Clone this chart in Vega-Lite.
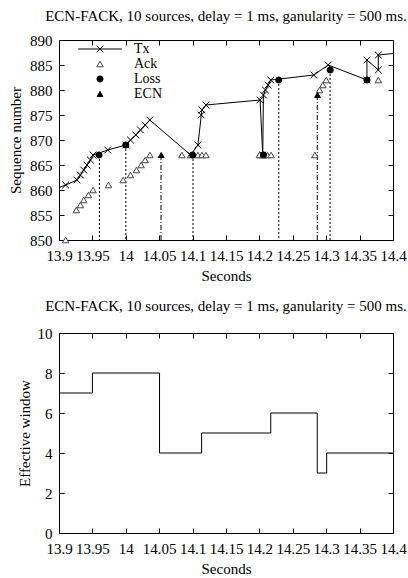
{
  "$schema": "https://vega.github.io/schema/vega-lite/v6.json",
  "padding": {"left": 8, "top": 8, "right": 0, "bottom": 0},
  "background": "white",
  "datasets": {
    "tx": [
      {"n": 0, "t": 13.88, "seq": 859.5, "series": "Tx"},
      {"n": 1, "t": 13.91, "seq": 861, "series": "Tx"},
      {"n": 2, "t": 13.927, "seq": 862, "series": "Tx"},
      {"n": 3, "t": 13.932, "seq": 863, "series": "Tx"},
      {"n": 4, "t": 13.937, "seq": 864, "series": "Tx"},
      {"n": 5, "t": 13.942, "seq": 865, "series": "Tx"},
      {"n": 6, "t": 13.947, "seq": 866, "series": "Tx"},
      {"n": 7, "t": 13.951, "seq": 867, "series": "Tx"},
      {"n": 8, "t": 13.973, "seq": 868, "series": "Tx"},
      {"n": 9, "t": 14.0, "seq": 869, "series": "Tx"},
      {"n": 10, "t": 14.007, "seq": 870, "series": "Tx"},
      {"n": 11, "t": 14.015, "seq": 871, "series": "Tx"},
      {"n": 12, "t": 14.022, "seq": 872, "series": "Tx"},
      {"n": 13, "t": 14.029, "seq": 873, "series": "Tx"},
      {"n": 14, "t": 14.036, "seq": 874, "series": "Tx"},
      {"n": 15, "t": 14.097, "seq": 867, "series": "Tx"},
      {"n": 16, "t": 14.108, "seq": 869, "series": "Tx"},
      {"n": 17, "t": 14.113, "seq": 875, "series": "Tx"},
      {"n": 18, "t": 14.114, "seq": 876, "series": "Tx"},
      {"n": 19, "t": 14.12, "seq": 877, "series": "Tx"},
      {"n": 20, "t": 14.201, "seq": 878, "series": "Tx"},
      {"n": 21, "t": 14.205, "seq": 867, "series": "Tx"},
      {"n": 22, "t": 14.206, "seq": 879, "series": "Tx"},
      {"n": 23, "t": 14.209, "seq": 880, "series": "Tx"},
      {"n": 24, "t": 14.213, "seq": 881, "series": "Tx"},
      {"n": 25, "t": 14.217, "seq": 882, "series": "Tx"},
      {"n": 26, "t": 14.2815, "seq": 883, "series": "Tx"},
      {"n": 27, "t": 14.303, "seq": 885, "series": "Tx"},
      {"n": 28, "t": 14.361, "seq": 882, "series": "Tx"},
      {"n": 29, "t": 14.361, "seq": 886, "series": "Tx"},
      {"n": 30, "t": 14.378, "seq": 884, "series": "Tx"},
      {"n": 31, "t": 14.378, "seq": 887, "series": "Tx"},
      {"n": 32, "t": 14.43, "seq": 887.7, "series": "Tx"}
    ],
    "events": [
      {"t": 13.91, "seq": 850, "series": "Ack"},
      {"t": 13.926, "seq": 856, "series": "Ack"},
      {"t": 13.932, "seq": 857, "series": "Ack"},
      {"t": 13.937, "seq": 858, "series": "Ack"},
      {"t": 13.944, "seq": 859, "series": "Ack"},
      {"t": 13.951, "seq": 860, "series": "Ack"},
      {"t": 13.974, "seq": 861, "series": "Ack"},
      {"t": 13.996, "seq": 862, "series": "Ack"},
      {"t": 14.007, "seq": 863, "series": "Ack"},
      {"t": 14.016, "seq": 864, "series": "Ack"},
      {"t": 14.023, "seq": 865, "series": "Ack"},
      {"t": 14.029, "seq": 866, "series": "Ack"},
      {"t": 14.036, "seq": 867, "series": "Ack"},
      {"t": 14.084, "seq": 867, "series": "Ack"},
      {"t": 14.097, "seq": 867, "series": "Ack"},
      {"t": 14.108, "seq": 867, "series": "Ack"},
      {"t": 14.114, "seq": 867, "series": "Ack"},
      {"t": 14.12, "seq": 867, "series": "Ack"},
      {"t": 14.2, "seq": 867, "series": "Ack"},
      {"t": 14.206, "seq": 867, "series": "Ack"},
      {"t": 14.212, "seq": 867, "series": "Ack"},
      {"t": 14.2175, "seq": 867, "series": "Ack"},
      {"t": 14.283, "seq": 867, "series": "Ack"},
      {"t": 14.29, "seq": 880, "series": "Ack"},
      {"t": 14.295, "seq": 881, "series": "Ack"},
      {"t": 14.3, "seq": 882, "series": "Ack"},
      {"t": 14.378, "seq": 882, "series": "Ack"},
      {"t": 13.96, "seq": 867, "series": "Loss"},
      {"t": 14.0, "seq": 869, "series": "Loss"},
      {"t": 14.1, "seq": 867, "series": "Loss"},
      {"t": 14.206, "seq": 867, "series": "Loss"},
      {"t": 14.229, "seq": 882, "series": "Loss"},
      {"t": 14.306, "seq": 884, "series": "Loss"},
      {"t": 14.361, "seq": 882, "series": "Loss"},
      {"t": 14.053, "seq": 867, "series": "ECN"},
      {"t": 14.287, "seq": 879, "series": "ECN"}
    ],
    "drops": [
      {"t": 13.9605, "seq": 867, "kind": "loss"},
      {"t": 14.0, "seq": 869, "kind": "loss"},
      {"t": 14.1006, "seq": 867, "kind": "loss"},
      {"t": 14.229, "seq": 882, "kind": "loss"},
      {"t": 14.3058, "seq": 884, "kind": "loss"},
      {"t": 14.0527, "seq": 867, "kind": "ecn"},
      {"t": 14.2866, "seq": 879, "kind": "ecn"}
    ],
    "win": [
      {"t": 13.9, "w": 7},
      {"t": 13.95, "w": 8},
      {"t": 14.0505, "w": 4},
      {"t": 14.1135, "w": 5},
      {"t": 14.217, "w": 6},
      {"t": 14.2866, "w": 3},
      {"t": 14.3007, "w": 4},
      {"t": 14.4, "w": 4}
    ]
  },
  "vconcat": [
    {
      "width": 334,
      "height": 200,
      "title": {"text": "ECN-FACK, 10 sources, delay = 1 ms, ganularity = 500 ms.", "offset": 9},
      "layer": [
        {
          "data": {"name": "drops"},
          "mark": {"type": "point", "opacity": 0},
          "encoding": {
            "x": {"field": "t", "type": "quantitative", "scale": {"domain": [13.9, 14.4], "nice": false, "zero": false},
                  "axis": {"orient": "top", "labels": false, "title": null, "values": [13.9, 13.95, 14.0, 14.05, 14.1, 14.15, 14.2, 14.25, 14.3, 14.35, 14.4]}},
            "y": {"field": "seq", "type": "quantitative", "scale": {"domain": [850, 890], "nice": false, "zero": false},
                  "axis": {"orient": "right", "labels": false, "title": null, "values": [850, 855, 860, 865, 870, 875, 880, 885, 890]}}
          }
        },
        {
          "data": {"name": "drops"},
          "transform": [{"filter": "datum.kind === 'loss'"}],
          "mark": {"type": "rule", "color": "black", "strokeWidth": 1, "strokeDash": [2, 2]},
          "encoding": {
            "x": {"field": "t", "type": "quantitative", "scale": {"domain": [13.9, 14.4], "nice": false, "zero": false},
                  "axis": {"orient": "bottom", "title": "Seconds", "values": [13.9, 13.95, 14.0, 14.05, 14.1, 14.15, 14.2, 14.25, 14.3, 14.35, 14.4], "format": "~g"}},
            "y": {"field": "seq", "type": "quantitative", "scale": {"domain": [850, 890], "nice": false, "zero": false},
                  "axis": {"orient": "left", "title": "Sequence number", "titlePadding": 6, "values": [850, 855, 860, 865, 870, 875, 880, 885, 890]}},
            "y2": {"datum": 850}
          }
        },
        {
          "data": {"name": "drops"},
          "transform": [{"filter": "datum.kind === 'ecn'"}],
          "mark": {"type": "rule", "color": "black", "strokeWidth": 1, "strokeDash": [5, 2, 1, 2]},
          "encoding": {
            "x": {"field": "t", "type": "quantitative", "scale": {"domain": [13.9, 14.4], "nice": false, "zero": false}, "axis": null},
            "y": {"field": "seq", "type": "quantitative", "scale": {"domain": [850, 890], "nice": false, "zero": false}, "axis": null},
            "y2": {"datum": 850}
          }
        },
        {
          "data": {"name": "tx"},
          "mark": {"type": "line", "color": "black", "strokeWidth": 1, "clip": true},
          "encoding": {
            "x": {"field": "t", "type": "quantitative", "scale": {"domain": [13.9, 14.4], "nice": false, "zero": false}, "axis": null},
            "y": {"field": "seq", "type": "quantitative", "scale": {"domain": [850, 890], "nice": false, "zero": false}, "axis": null},
            "order": {"field": "n", "type": "quantitative"}
          }
        },
        {
          "data": {"name": "tx"},
          "mark": {"type": "point", "shape": "M-1,-1L1,1M-1,1L1,-1", "size": 45, "filled": false, "color": "black", "strokeWidth": 1, "opacity": 1, "clip": true},
          "encoding": {
            "x": {"field": "t", "type": "quantitative", "scale": {"domain": [13.9, 14.4], "nice": false, "zero": false}, "axis": null},
            "y": {"field": "seq", "type": "quantitative", "scale": {"domain": [850, 890], "nice": false, "zero": false}, "axis": null}
          }
        },
        {
          "data": {"name": "events"},
          "mark": {"type": "point", "strokeWidth": 1, "opacity": 1},
          "encoding": {
            "x": {"field": "t", "type": "quantitative", "scale": {"domain": [13.9, 14.4], "nice": false, "zero": false}, "axis": null},
            "y": {"field": "seq", "type": "quantitative", "scale": {"domain": [850, 890], "nice": false, "zero": false}, "axis": null},
            "shape": {"field": "series", "type": "nominal", "scale": {"domain": ["Tx", "Ack", "Loss", "ECN"], "range": ["M-6.5,0L6.5,0M-1,-1L1,1M-1,1L1,-1", "triangle-up", "circle", "triangle-up"]},
                      "legend": {"orient": "none", "legendX": 34, "legendY": 2, "title": null, "labelOffset": 27, "rowPadding": 1, "symbolStrokeWidth": 1}},
            "fill": {"field": "series", "type": "nominal", "scale": {"domain": ["Tx", "Ack", "Loss", "ECN"], "range": ["transparent", "white", "black", "black"]}},
            "stroke": {"field": "series", "type": "nominal", "scale": {"domain": ["Tx", "Ack", "Loss", "ECN"], "range": ["black", "#444444", "black", "black"]}},
            "size": {"field": "series", "type": "nominal", "scale": {"domain": ["Tx", "Ack", "Loss", "ECN"], "range": [45, 34, 30, 22]}}
          }
        }
      ],
      "resolve": {"axis": {"x": "independent", "y": "independent"}}
    },
    {
      "width": 334,
      "height": 200,
      "title": {"text": "ECN-FACK, 10 sources, delay = 1 ms, ganularity = 500 ms.", "offset": 12},
      "data": {"name": "win"},
      "layer": [
        {
          "mark": {"type": "point", "opacity": 0},
          "encoding": {
            "x": {"field": "t", "type": "quantitative", "scale": {"domain": [13.9, 14.4], "nice": false, "zero": false},
                  "axis": {"orient": "top", "labels": false, "title": null, "values": [13.9, 13.95, 14.0, 14.05, 14.1, 14.15, 14.2, 14.25, 14.3, 14.35, 14.4]}},
            "y": {"field": "w", "type": "quantitative", "scale": {"domain": [0, 10], "nice": false},
                  "axis": {"orient": "right", "labels": false, "title": null, "values": [0, 2, 4, 6, 8, 10]}}
          }
        },
        {
          "mark": {"type": "line", "interpolate": "step-after", "color": "black", "strokeWidth": 1},
          "encoding": {
            "x": {"field": "t", "type": "quantitative", "scale": {"domain": [13.9, 14.4], "nice": false, "zero": false},
                  "axis": {"orient": "bottom", "title": "Seconds", "values": [13.9, 13.95, 14.0, 14.05, 14.1, 14.15, 14.2, 14.25, 14.3, 14.35, 14.4], "format": "~g"}},
            "y": {"field": "w", "type": "quantitative", "scale": {"domain": [0, 10], "nice": false},
                  "axis": {"orient": "left", "title": "Effective window", "titlePadding": 5, "values": [0, 2, 4, 6, 8, 10]}}
          }
        }
      ],
      "resolve": {"axis": {"x": "independent", "y": "independent"}}
    }
  ],
  "spacing": 14,
  "config": {
    "font": "Liberation Serif",
    "view": {"stroke": "black", "strokeWidth": 1},
    "axis": {
      "labelFont": "Liberation Serif", "labelFontSize": 15, "labelColor": "black", "labelOverlap": false, "labelFlush": false,
      "titleFont": "Liberation Serif", "titleFontSize": 15, "titleFontWeight": "normal", "titleColor": "black",
      "tickColor": "black", "tickSize": -5, "tickWidth": 1, "domain": false, "grid": false, "labelPadding": 13, "titlePadding": 5,
      "minExtent": 0
    },
    "axisY": {"minExtent": 0, "labelPadding": 12},
    "title": {"font": "Liberation Serif", "fontSize": 15, "fontWeight": "normal", "color": "black"},
    "legend": {"labelFont": "Liberation Serif", "labelFontSize": 14, "labelColor": "black"}
  }
}
